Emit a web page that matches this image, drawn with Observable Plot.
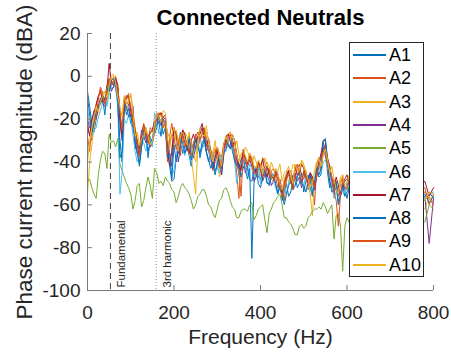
<!DOCTYPE html>
<html><head><meta charset="utf-8">
<script src="https://cdn.jsdelivr.net/npm/d3@7"></script>
<script src="https://cdn.jsdelivr.net/npm/@observablehq/plot@0.6"></script>
<style>
body{margin:0;background:#fff;}
#wrap{position:relative;width:451px;height:354px;font-family:"Liberation Sans",Arial,Helvetica,sans-serif;}
#legend{position:absolute;left:349px;top:42px;width:75px;height:235px;border:1px solid #262626;background:#fff;box-sizing:border-box;}
.row{position:absolute;left:3px;height:22px;display:flex;align-items:center;}
.sw{display:inline-block;width:33px;height:1.5px;margin-right:3px;}
.lb{font-size:18px;color:#000;line-height:22px;}
</style></head>
<body><div id="wrap"></div>
<script>
const freq = [0,5,10,15,20,25,30,35,40,45,50,55,60,65,70,75,80,85,90,95,
100,105,110,115,120,125,130,135,140,145,150,155,160,165,170,175,180,185,190,195,
200,205,210,215,220,225,230,235,240,245,250,255,260,265,270,275,280,285,290,295,
300,305,310,315,320,325,330,335,340,345,350,355,360,365,370,375,380,385,390,395,
400,405,410,415,420,425,430,435,440,445,450,455,460,465,470,475,480,485,490,495,
500,505,510,515,520,525,530,535,540,545,550,555,560,565,570,575,580,585,590,595,
600,605,610, 650,700,750,780,790,800];

const a1 = [-7,-14,-22,-26,-20,-15,-12,-10,-18,-9, -4,-6,-5,-3,-14,-30,-40,-12,-18,-15,
-22,-18,-34,-30,-42,-33,-28,-24,-38,-29, -30,-27,-24,-21,-28,-20,-22,-35,-42,-49,
-48,-38,-32,-26,-36,-33,-30,-37,-42,-31, -34,-29,-38,-33,-30,-36,-40,-35,-36,-44,
-42,-38,-46,-35,-28,-31,-34,-29,-40,-38, -46,-41,-36,-44,-48,-43,-85,-50,-42,-47,
-48,-43,-44,-50,-50,-45,-46,-51,-54,-49, -58,-53,-50,-56,-54,-48,-46,-52,-50,-45,
-54,-49,-46,-52,-56,-48,-44,-47,-46,-31, -34,-45,-52,-48,-54,-51,-60,-56,-50,-53,
-57,-52,-54, -56,-55,-57,-58,-54,-57];
const a2 = [-25,-27,-30,-20,-14,-10,-6,-11,-12,-4, -1,-3,-3,0,-5,-20,-28,-14,-10,-8,
-17,-21,-24,-32,-38,-27,-22,-26,-32,-24, -25,-22,-20,-18,-17,-21,-23,-40,-28,-22,
-30,-26,-31,-37,-25,-28,-34,-30,-31,-36, -27,-33,-30,-26,-24,-29,-35,-39,-44,-36,
-33,-36,-38,-31,-32,-27,-26,-30,-37,-45, -57,-40,-34,-38,-41,-36,-38,-44,-46,-40,
-44,-38,-40,-45,-49,-44,-43,-47,-52,-48, -53,-58,-48,-45,-44,-50,-48,-43,-41,-47,
-48,-44,-53,-50,-47,-60,-41,-38,-44,-36, -32,-42,-49,-52,-48,-53,-56,-50,-47,-52,
-53,-49,-51, -54,-56,-54,-52,-60,-55];
const a3 = [-55,-40,-32,-24,-18,-13,-12,-7,-8,-12, -6,-2,0,-4,-11,-16,-18,-10,-16,-12,
-8,-15,-24,-29,-35,-30,-29,-25,-28,-33, -32,-26,-22,-19,-18,-24,-21,-26,-29,-35,
-31,-25,-30,-27,-31,-26,-28,-34,-38,-46, -55,-33,-25,-29,-27,-23,-31,-34,-36,-30,
-39,-47,-44,-34,-30,-27,-26,-31,-35,-30, -36,-41,-39,-33,-35,-38,-42,-37,-40,-44,
-47,-42,-38,-41,-46,-40,-43,-48,-44,-41, -49,-45,-44,-50,-47,-41,-42,-46,-44,-39,
-41,-45,-50,-55,-65,-48,-40,-43,-38,-34, -37,-40,-42,-47,-54,-50,-52,-47,-46,-50,
-51,-47,-48, -53,-54,-56,-62,-56,-59];
const a4 = [-20,-24,-21,-16,-20,-14,-10,-13,-14,-8, -2,-7,-5,-2,-6,-22,-30,-16,-12,-13,
-19,-14,-31,-36,-34,-25,-28,-31,-27,-33, -31,-24,-17,-20,-23,-19,-18,-30,-36,-42,
-24,-29,-40,-33,-26,-31,-35,-29,-32,-38, -33,-28,-27,-24,-30,-35,-32,-38,-43,-40,
-35,-41,-46,-37,-29,-33,-32,-27,-30,-38, -43,-39,-37,-45,-42,-39,-42,-49,-47,-43,
-44,-49,-46,-42,-46,-51,-49,-45,-48,-53, -55,-50,-47,-44,-50,-46,-45,-49,-47,-52,
-44,-48,-50,-45,-49,-53,-47,-42,-37,-33, -37,-41,-43,-50,-55,-51,-53,-56,-53,-49,
-48,-51,-54, -55,-54,-55,-56,-78,-57];
const a5 = [-49,-48,-52,-55,-57,-46,-39,-35,-36,-43, -27,-31,-30,-33,-29,-41,-44,-47,-50,-52,
-55,-62,-58,-51,-50,-61,-58,-52,-47,-51, -57,-43,-45,-50,-49,-51,-47,-49,-50,-53,
-54,-59,-56,-52,-50,-52,-53,-55,-58,-62, -60,-56,-55,-53,-53,-56,-60,-61,-64,-66,
-62,-58,-57,-53,-52,-54,-58,-61,-62,-66, -66,-63,-62,-62,-63,-60,-59,-67,-65,-62,
-61,-60,-67,-73,-64,-62,-59,-58,-56,-55, -60,-66,-66,-68,-69,-71,-74,-74,-70,-69,
-71,-70,-66,-65,-63,-62,-62,-61,-62,-59, -61,-64,-62,-60,-76,-65,-64,-70,-91,-70,
-66,-68,-70, -68,-68,-70,-68,-60,-62];
const a6 = [-15,-22,-28,-25,-24,-19,-16,-12,-10,-14, -8,-5,-2,-6,-13,-55,-45,-20,-22,-18,
-20,-27,-35,-40,-36,-30,-31,-35,-30,-28, -33,-17,-20,-27,-25,-23,-21,-30,-38,-46,
-44,-37,-33,-30,-34,-37,-31,-35,-40,-34, -35,-31,-28,-34,-32,-29,-34,-40,-41,-37,
-43,-45,-39,-34,-35,-31,-29,-33,-39,-50, -44,-40,-38,-43,-46,-41,-43,-47,-46,-42,
-50,-46,-42,-47,-49,-45,-47,-52,-55,-50, -54,-51,-55,-50,-46,-52,-51,-47,-44,-49,
-51,-46,-48,-53,-55,-49,-44,-41,-46,-40, -39,-43,-45,-51,-57,-54,-55,-50,-54,-56,
-49,-53,-57, -56,-55,-54,-57,-55,-54];
const a7 = [-22,-28,-20,-17,-13,-9,-7,-12,-11,-6, 6,-3,-4,-1,-4,-18,-27,-12,-9,-10,
-15,-19,-25,-31,-36,-28,-23,-27,-31,-26, -25,-21,-21,-18,-17,-19,-20,-33,-42,-35,
-24,-28,-36,-30,-25,-27,-33,-36,-30,-27, -31,-28,-25,-22,-28,-33,-29,-35,-41,-38,
-34,-39,-43,-33,-28,-27,-30,-33,-30,-36, -41,-44,-35,-38,-41,-37,-39,-43,-45,-40,
-42,-39,-44,-47,-43,-46,-48,-44,-46,-50, -54,-49,-46,-44,-48,-52,-42,-46,-45,-41,
-43,-47,-49,-45,-47,-51,-45,-40,-36,-30, -30,-38,-42,-48,-52,-47,-51,-55,-51,-48,
-46,-50,-53, -54,-55,-53,-49,-56,-52];
const a8 = [-10,-18,-26,-22,-17,-14,-13,-9,-11,-5, -7,-2,-1,-5,-11,-38,-35,-13,-14,-19,
-18,-24,-29,-36,-41,-33,-25,-29,-35,-31, -29,-24,-23,-19,-21,-27,-24,-38,-36,-48,
-32,-40,-35,-29,-31,-36,-33,-28,-39,-34, -29,-33,-36,-31,-29,-35,-39,-43,-40,-46,
-41,-37,-43,-36,-34,-30,-29,-35,-39,-42, -41,-47,-43,-40,-43,-48,-49,-44,-43,-50,
-52,-47,-44,-49,-51,-47,-46,-50,-55,-51, -55,-60,-55,-51,-49,-53,-51,-47,-45,-50,
-51,-54,-49,-46,-55,-50,-43,-46,-43,-30, -29,-40,-49,-54,-53,-49,-59,-55,-51,-56,
-54,-52,-54, -55,-57,-56,-55,-59,-56];
const a9 = [-28,-35,-23,-21,-19,-11,-5,-8,-13,-6, -1,-4,-2,-3,-5,-16,-25,-10,-11,-9,
-14,-22,-26,-30,-37,-28,-23,-27,-31,-26, -26,-23,-20,-17,-18,-24,-22,-36,-31,-27,
-29,-34,-32,-27,-29,-33,-30,-36,-37,-31, -28,-26,-30,-27,-25,-31,-35,-36,-38,-34,
-39,-43,-40,-34,-33,-29,-27,-31,-35,-41, -44,-56,-36,-39,-42,-38,-40,-45,-46,-41,
-43,-47,-45,-42,-44,-48,-49,-46,-48,-52, -56,-51,-48,-46,-49,-53,-44,-41,-46,-49,
-44,-47,-51,-48,-48,-52,-46,-41,-38,-35, -36,-41,-43,-47,-54,-58,-70,-55,-48,-52,
-52,-48,-50, -55,-55,-55,-54,-57,-60];
const a10 = [-40,-30,-24,-19,-14,-17,-12,-9,-7,-10, -4,0,1,-3,-10,-14,-19,-9,-13,-11,
-9,-17,-28,-26,-32,-29,-28,-24,-28,-32, -30,-22,-17,-20,-21,-16,-17,-29,-33,-27,
-24,-30,-35,-28,-26,-29,-32,-26,-32,-36, -40,-30,-24,-27,-28,-26,-30,-36,-40,-33,
-33,-38,-42,-32,-28,-31,-30,-27,-30,-37, -40,-36,-35,-37,-40,-36,-38,-42,-43,-39,
-41,-45,-43,-40,-42,-46,-47,-43,-45,-50, -53,-48,-45,-42,-47,-50,-41,-44,-44,-40,
-42,-45,-48,-52,-50,-44,-40,-38,-42,-37, -34,-39,-45,-42,-48,-53,-55,-49,-46,-51,
-50,-46,-48, -53,-54,-54,-58,-54,-55];

const seriesNames = ["A1","A2","A3","A4","A5","A6","A7","A8","A9","A10"];
const seriesColors = ["#0072BD","#D95319","#EDB120","#7E2F8E","#77AC30","#4DBEEE","#A2142F","#0072BD","#D95319","#EDB120"];
const seriesValues = [a1,a2,a3,a4,a5,a6,a7,a8,a9,a10];

const xTicks = [0,200,400,600,800];
const yTicks = [-100,-80,-60,-40,-20,0,20];
const xDomain = [0,800];
const yDomain = [-100,20];
const markers = [{f:53, t:"Fundamental", kind:"dash"},{f:159, t:"3rd harmonic", kind:"dot"}];

const titleText = "Connected Neutrals";
const xLabel = "Frequency (Hz)";
const yLabel = "Phase current magnitude (dBA)";

seriesValues.forEach((v, i) => { if (v.length !== freq.length) throw new Error(seriesNames[i] + " has " + v.length + " values, expected " + freq.length); });

const rows = seriesNames.flatMap((s, i) => freq.map((f, j) => ({s, f, v: seriesValues[i][j]})));

const font = "Liberation Sans, Arial, Helvetica, sans-serif";
const W = 451, H = 354, mL = 87, mR = 18, mT = 33, mB = 64;

const chart = Plot.plot({
  width: W, height: H,
  marginLeft: mL, marginRight: mR, marginTop: mT, marginBottom: mB,
  style: {fontFamily: font, color: "#262626", background: "white", overflow: "visible"},
  x: {domain: xDomain},
  y: {domain: yDomain},
  color: {domain: seriesNames, range: seriesColors},
  marks: [
    Plot.ruleX(markers.filter(d => d.kind === "dash"), {x: "f", stroke: "#404040", strokeWidth: 1, strokeDasharray: "6,4"}),
    Plot.ruleX(markers.filter(d => d.kind === "dot"), {x: "f", stroke: "#9a9a9a", strokeWidth: 1, strokeDasharray: "1,2"}),
    Plot.line(rows, {x: "f", y: "v", z: "s", stroke: "s", strokeWidth: 1}),
    Plot.text(markers, {x: "f", text: "t", frameAnchor: "bottom", rotate: -90, textAnchor: "start", lineAnchor: "middle", dx: 11, dy: -3, fontSize: 11.5, fill: "#262626"}),
    Plot.ruleY([yDomain[0]], {stroke: "#7a7a7a", strokeWidth: 1}),
    Plot.ruleX([xDomain[0]], {stroke: "#7a7a7a", strokeWidth: 1}),
    Plot.tickX(xTicks, {x: d => d, stroke: "#7a7a7a", insetTop: (H - mT - mB) - 5}),
    Plot.tickY(yTicks, {y: d => d, stroke: "#7a7a7a", insetRight: (W - mL - mR) - 5}),
    Plot.axisX({ticks: xTicks, tickSize: 0, tickPadding: 15, fontSize: 19, label: null, tickFormat: d => `${d}`}),
    Plot.axisY({ticks: yTicks, tickSize: 0, tickPadding: 7, fontSize: 19, label: null, tickFormat: d => `${d}`}),
    Plot.text([xLabel], {frameAnchor: "bottom", lineAnchor: "middle", dy: 47, fontSize: 21, fill: "#262626"}),
    Plot.text([{t: yLabel, x: xDomain[0], y: (yDomain[0] + yDomain[1]) / 2}], {x: "x", y: "y", text: "t", rotate: -90, textAnchor: "middle", lineAnchor: "middle", dx: -63, fontSize: 22.5, fill: "#262626"}),
    Plot.text([titleText], {frameAnchor: "top", lineAnchor: "middle", dy: -16, fontSize: 22, fontWeight: "bold", fill: "#000"})
  ]
});

const wrap = document.getElementById("wrap");
wrap.appendChild(chart);

const legend = document.createElement("div");
legend.id = "legend";
seriesNames.forEach((s, i) => {
  const row = document.createElement("div");
  row.className = "row";
  row.style.top = Math.round(12 + i * 23.3 - 11) + "px";
  const sw = document.createElement("span");
  sw.className = "sw";
  sw.style.background = seriesColors[i];
  const lb = document.createElement("span");
  lb.className = "lb";
  lb.textContent = s;
  row.appendChild(sw); row.appendChild(lb);
  legend.appendChild(row);
});
wrap.appendChild(legend);
</script></body></html>
